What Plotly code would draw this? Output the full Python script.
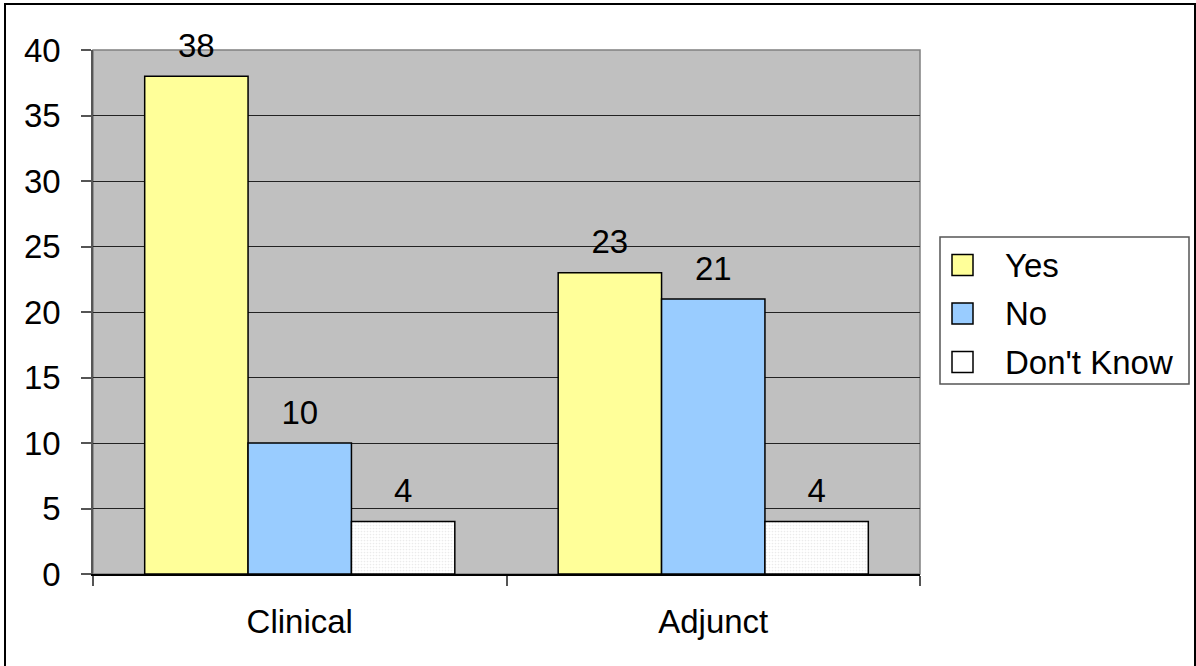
import plotly.graph_objects as go

# ---- data ----
categories = ["Clinical", "Adjunct"]
series_names = ["Yes", "No", "Don't Know"]
yes_values = [38, 23]
no_values = [10, 21]
dont_know_values = [4, 4]
y_ticks = [0, 5, 10, 15, 20, 25, 30, 35, 40]

series_values = [yes_values, no_values, dont_know_values]
series_colors = ["#FFFF99", "#99CCFF", "#FFFFFF"]

# ---- page geometry (pixels) ----
W, H = 1196, 666
PL, PR, PT, PB = 93, 920, 50, 574  # plot area edges


def px_x(x):
    return (x - PL) / (PR - PL)


def px_y(y):
    return (PB - y) / (PB - PT)


FONT = "Liberation Sans, Arial, sans-serif"
FS = 33

fig = go.Figure()

for name, vals, col in zip(series_names, series_values, series_colors):
    marker = dict(color=col, line=dict(color="#000000", width=1.5))
    if name == "Don't Know":
        marker["pattern"] = dict(shape=".", fgcolor="#D8D8D8", bgcolor="#FFFFFF",
                                 size=3, solidity=0.25)
    fig.add_trace(go.Bar(
        x=categories, y=vals, name=name, marker=marker,
        offsetgroup=name, alignmentgroup="g", showlegend=False,
    ))

# value labels above each bar
for name, vals in zip(series_names, series_values):
    fig.add_trace(go.Scatter(
        x=categories, y=vals, mode="markers+text", text=[str(v) for v in vals],
        textposition="top center", offsetgroup=name, alignmentgroup="g",
        marker=dict(size=16, opacity=0), cliponaxis=False,
        textfont=dict(family=FONT, size=FS, color="#000000"),
        hoverinfo="skip", showlegend=False,
    ))

shapes = []
annotations = []

# plot-area frame
shapes.append(dict(type="rect", xref="paper", yref="paper", x0=0, x1=1, y0=0, y1=1,
                   line=dict(color="#808080", width=1.5), layer="below"))

# outer chart border
shapes.append(dict(type="rect", xref="paper", yref="paper",
                   x0=px_x(5), x1=px_x(1195), y0=px_y(668), y1=px_y(4),
                   line=dict(color="#000000", width=2)))

# legend box
shapes.append(dict(type="rect", xref="paper", yref="paper",
                   x0=px_x(940), x1=px_x(1189), y0=px_y(384), y1=px_y(237),
                   line=dict(color="#555555", width=1.5), fillcolor="#FFFFFF"))
for i, (name, col) in enumerate(zip(series_names, series_colors)):
    cy = 265 + i * 48.5
    shapes.append(dict(type="rect", xref="paper", yref="paper",
                       x0=px_x(952), x1=px_x(973), y0=px_y(cy + 10.5), y1=px_y(cy - 10.5),
                       line=dict(color="#000000", width=1.5), fillcolor=col))
    annotations.append(dict(xref="paper", yref="paper", x=px_x(1003), y=px_y(cy),
                            text=name, showarrow=False, xanchor="left", yanchor="middle",
                            font=dict(family=FONT, size=FS, color="#000000")))

fig.update_layout(
    width=W, height=H,
    margin=dict(l=PL, r=W - PR, t=PT, b=H - PB, pad=0),
    paper_bgcolor="#FFFFFF", plot_bgcolor="#C0C0C0",
    barmode="group", bargap=0.25, bargroupgap=0,
    scattermode="group", scattergap=0.25,
    font=dict(family=FONT, size=FS, color="#000000"),
    shapes=shapes, annotations=annotations,
    showlegend=False,
)

fig.update_xaxes(
    type="category", categoryorder="array", categoryarray=categories,
    showline=True, linecolor="#000000", linewidth=2,
    ticks="outside", tickson="boundaries", ticklen=10, tickcolor="#555555", tickwidth=1.5,
    ticklabelstandoff=17, showgrid=False,
    tickfont=dict(family=FONT, size=FS, color="#000000"),
)
fig.update_yaxes(
    range=[0, 40], tickvals=y_ticks, ticktext=[str(t) for t in y_ticks],
    showline=True, linecolor="#555555", linewidth=1.5,
    ticks="outside", ticklen=10, tickcolor="#555555", tickwidth=1.5,
    ticklabelstandoff=14,
    showgrid=True, gridcolor="#222222", gridwidth=1, zeroline=False,
    tickfont=dict(family=FONT, size=FS, color="#000000"),
)

fig.write_html("out.html")
